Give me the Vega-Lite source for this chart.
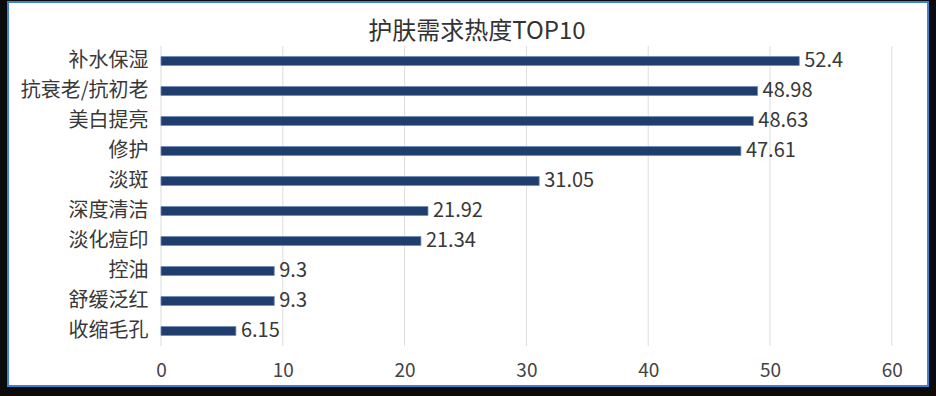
{
  "$schema": "https://vega.github.io/schema/vega-lite/v6.json",
  "autosize": {"type": "none"},
  "width": 920,
  "height": 384,
  "padding": {"left": 8, "top": 2, "right": 8, "bottom": 10},
  "background": "#0b0b0b",
  "config": {
    "view": {"fill": "#ffffff", "stroke": "#3f7fd6", "strokeWidth": 2},
    "font": "Noto Sans CJK SC"
  },
  "title": {
    "text": "护肤需求热度TOP10",
    "fontSize": 24,
    "fontWeight": "normal",
    "color": "#333333",
    "anchor": "middle",
    "offset": -42,
    "dx": 9
  },
  "data": {
    "values": [
      {"name": "补水保湿", "value": 52.4},
      {"name": "抗衰老/抗初老", "value": 48.98},
      {"name": "美白提亮", "value": 48.63},
      {"name": "修护", "value": 47.61},
      {"name": "淡斑", "value": 31.05},
      {"name": "深度清洁", "value": 21.92},
      {"name": "淡化痘印", "value": 21.34},
      {"name": "控油", "value": 9.3},
      {"name": "舒缓泛红", "value": 9.3},
      {"name": "收缩毛孔", "value": 6.15}
    ]
  },
  "layer": [
    {
      "data": {"values": [{"g": 0}, {"g": 10}, {"g": 20}, {"g": 30}, {"g": 40}, {"g": 50}, {"g": 60}]},
      "mark": {"type": "rule", "color": "#dcdcdc", "strokeWidth": 1},
      "encoding": {
        "x": {"field": "g", "type": "quantitative", "scale": {"domain": [-12.56, 62.97], "nice": false, "zero": false}},
        "y": {"datum": "补水保湿", "type": "nominal", "bandPosition": 0,
              "scale": {"domain": ["补水保湿", "抗衰老/抗初老", "美白提亮", "修护", "淡斑", "深度清洁", "淡化痘印", "控油", "舒缓泛红", "收缩毛孔"], "paddingInner": 0, "paddingOuter": 0, "range": [44, 344]}},
        "y2": {"datum": "收缩毛孔", "bandPosition": 1}
      }
    },
    {
      "mark": {"type": "bar", "height": {"band": 0.3}, "color": "#1f3d6d", "stroke": "#6d8dbd", "strokeWidth": 0.8},
      "encoding": {
        "x": {
          "field": "value",
          "type": "quantitative",
          "scale": {"domain": [-12.56, 62.97], "nice": false, "zero": false},
          "axis": {
            "values": [0, 10, 20, 30, 40, 50, 60],
            "orient": "bottom",
            "offset": -27,
            "domain": false,
            "ticks": false,
            "tickSize": 0,
            "labelPadding": 2,
            "grid": false,
            "title": null,
            "labelFontSize": 19,
            "labelColor": "#444444"
          }
        },
        "y": {
          "field": "name",
          "type": "nominal",
          "sort": null,
          "scale": {"domain": ["补水保湿", "抗衰老/抗初老", "美白提亮", "修护", "淡斑", "深度清洁", "淡化痘印", "控油", "舒缓泛红", "收缩毛孔"], "paddingInner": 0, "paddingOuter": 0, "range": [44, 344]},
          "axis": {
            "orient": "left",
            "offset": -153,
            "domain": false,
            "ticks": false,
            "tickSize": 0,
            "labelPadding": 13,
            "grid": false,
            "title": null,
            "labelFontSize": 20,
            "labelColor": "#383838"
          }
        }
      }
    },
    {
      "mark": {"type": "text", "align": "left", "baseline": "middle", "dx": 5, "fontSize": 20, "color": "#383838"},
      "encoding": {
        "x": {"field": "value", "type": "quantitative"},
        "y": {"field": "name", "type": "nominal", "sort": null},
        "text": {"field": "value", "type": "quantitative", "format": "~g"}
      }
    }
  ]
}
